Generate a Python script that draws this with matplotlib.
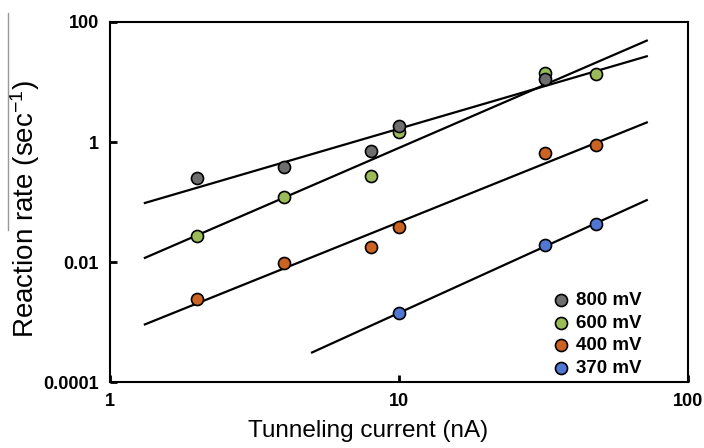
import numpy as np
import matplotlib.pyplot as plt

plt.rcParams['font.family'] = ['Liberation Sans', 'DejaVu Sans']
plt.rcParams['mathtext.fontset'] = 'custom'
plt.rcParams['mathtext.rm'] = 'Liberation Sans'
plt.rcParams['mathtext.default'] = 'regular'

# current (nA) and reaction rate (1/s)
x_800 = [2, 4, 8, 10, 32]
y_800 = [0.248, 0.387, 0.70, 1.85, 11.1]
x_600 = [2, 4, 8, 10, 32, 48]
y_600 = [0.027, 0.12, 0.274, 1.48, 14.0, 13.6]
x_400 = [2, 4, 8, 10, 32, 48]
y_400 = [0.0024, 0.0097, 0.018, 0.038, 0.66, 0.89]
x_370 = [10, 32, 48]
y_370 = [0.0014, 0.0192, 0.0425]

labels = ['800 mV', '600 mV', '400 mV', '370 mV']
colors = ['#6e6e6e', '#9bbb59', '#cc6322', '#5078d2']
series = [(x_800, y_800), (x_600, y_600), (x_400, y_400), (x_370, y_370)]
fit_start = [1.32, 1.32, 1.32, 5.0]
fit_end = 72

fig = plt.figure(figsize=(7.04, 4.48), dpi=100)
ax = fig.add_axes([0.1563, 0.1473, 0.821, 0.8036])

handles = []
for i, (xs, ys) in enumerate(series):
    lx, ly = np.log10(xs), np.log10(ys)
    k, b = np.polyfit(lx, ly, 1)
    xf = np.array([fit_start[i], fit_end])
    ax.plot(xf, 10 ** (k * np.log10(xf) + b), color='black', lw=1.6, zorder=2)
    h = ax.scatter(xs, ys, s=75, color=colors[i], edgecolor='black',
                   linewidths=1.2, zorder=10 - i, label=labels[i])
    handles.append(h)

ax.set_xscale('log')
ax.set_yscale('log')
ax.set_xlim(1, 100)
ax.set_ylim(1e-4, 100)
ax.set_xticks([1, 10, 100])
ax.set_xticklabels(['1', '10', '100'])
ax.set_yticks([1e-4, 1e-2, 1, 100])
ax.set_yticklabels(['0.0001', '0.01', '1', '100'])
ax.minorticks_off()
ax.tick_params(direction='in', length=5, width=2, labelsize=13, pad=8)
for t in ax.get_xticklabels() + ax.get_yticklabels():
    t.set_fontweight('bold')
for s in ax.spines.values():
    s.set_linewidth(1.5)

ax.set_xlabel('Tunneling current (nA)', fontsize=17.5, labelpad=7)
ax.xaxis.label.set_x(0.446)
ax.set_ylabel('Reaction rate (sec$^{-1}$)', fontsize=20, labelpad=1)
ax.yaxis.label.set_y(0.48)

ax.legend(handles=handles, loc='upper left', bbox_to_anchor=(0.748, 0.277),
          frameon=False, handlelength=1.0, handletextpad=0.3,
          labelspacing=0.3, borderpad=0,
          prop={'size': 13.5, 'weight': 'bold'})

# stray grey rule at the far left of the original figure
fig.add_artist(plt.Line2D([0.012, 0.012], [1 - 13 / 448, 1 - 230 / 448],
                          color='#999999', lw=1))

fig.savefig('out.png', dpi=100)
